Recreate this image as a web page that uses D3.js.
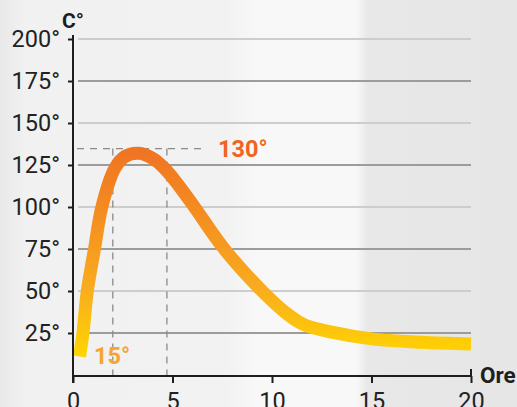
<!DOCTYPE html>
<html>
<head>
<meta charset="utf-8">
<script src="https://cdn.jsdelivr.net/npm/d3@7"></script>
<style>
  html, body { margin: 0; padding: 0; }
  body { width: 517px; height: 407px; overflow: hidden; }
  svg { display: block; font-family: Roboto, "Noto Sans", sans-serif; }
</style>
</head>
<body>
<div id="chart"></div>
<script>
// temperature curve (hours, °C)
const hours = [0.33, 0.5, 0.72, 1.08, 1.45, 2.1, 2.6, 3.3, 4.0, 4.6, 5.3, 6.1, 7.6, 9.5, 10.8, 11.6, 13, 15, 17.5, 20]
const temps = [11, 25, 50, 75, 100, 123, 130, 132, 129, 123, 113, 100, 75, 50, 36, 30, 25.5, 21.5, 19.5, 18.5]

const yTicks = [25, 50, 75, 100, 125, 150, 175, 200]
const xTicks = [0, 5, 10, 15, 20]
const peakValue = 130
const peakRange = [2.0, 4.72]
const startLabel = "15°"

const W = 517
const H = 407

const svg = d3.select("#chart").append("svg")
  .attr("width", W)
  .attr("height", H)

const defs = svg.append("defs")

// background: blurred room photo, approximated
const bg = defs.append("linearGradient")
  .attr("id", "bg")
  .attr("x1", 0).attr("x2", 1).attr("y1", 0).attr("y2", 0)
bg.append("stop").attr("offset", 0).attr("stop-color", "#e9e9e9")
bg.append("stop").attr("offset", 0.05).attr("stop-color", "#f1f1f1")
bg.append("stop").attr("offset", 0.44).attr("stop-color", "#f2f2f2")
bg.append("stop").attr("offset", 0.5).attr("stop-color", "#f8f8f8")
bg.append("stop").attr("offset", 0.69).attr("stop-color", "#f8f8f8")
bg.append("stop").attr("offset", 0.71).attr("stop-color", "#e8e8e8")
bg.append("stop").attr("offset", 1).attr("stop-color", "#e6e6e6")

svg.append("rect")
  .attr("width", W)
  .attr("height", H)
  .attr("fill", "url(#bg)")

const x = d3.scaleLinear().domain([0, 20]).range([73, 471])
const y = d3.scaleLinear().domain([0, 200]).range([375, 39])

// gridlines, alternating light / dark
svg.append("g")
  .selectAll("line")
  .data(yTicks)
  .join("line")
  .attr("x1", 78)
  .attr("x2", x(20))
  .attr("y1", d => y(d))
  .attr("y2", d => y(d))
  .attr("stroke", (d, i) => i % 2 === 0 ? "#9c9c9c" : "#cdcdcd")
  .attr("stroke-width", 2)

// dashed guides to the peak
const guideY = y(peakValue) - 8
const guides = svg.append("g")
  .attr("stroke", "#8a8a8a")
  .attr("stroke-width", 1.3)
  .attr("stroke-dasharray", "7 6")
  .attr("fill", "none")

guides.append("line")
  .attr("x1", x(0) + 4).attr("x2", 206)
  .attr("y1", guideY).attr("y2", guideY)

peakRange.forEach(h => {
  guides.append("line")
    .attr("x1", x(h)).attr("x2", x(h))
    .attr("y1", guideY)
    .attr("y2", y(0))
})

// curve gradient
const grad = defs.append("linearGradient")
  .attr("id", "curveGrad")
  .attr("gradientUnits", "userSpaceOnUse")
  .attr("x1", 0).attr("x2", 0)
  .attr("y1", y(10)).attr("y2", y(132))
grad.append("stop").attr("offset", 0).attr("stop-color", "#ffd600")
grad.append("stop").attr("offset", 0.35).attr("stop-color", "#f9ab1e")
grad.append("stop").attr("offset", 1).attr("stop-color", "#f07522")

const pts = hours.map((h, i) => [h, temps[i]])

const line = d3.line()
  .x(d => x(d[0]))
  .y(d => y(d[1]))
  .curve(d3.curveCatmullRom.alpha(0.5))

svg.append("path")
  .datum(pts)
  .attr("d", line)
  .attr("fill", "none")
  .attr("stroke", "url(#curveGrad)")
  .attr("stroke-width", 13)
  .attr("stroke-linecap", "butt")

// axes
const axisColor = "#1e1e1e"

const yAxis = svg.append("g")
  .attr("transform", `translate(${x(0)},0)`)
  .call(d3.axisLeft(y).tickValues(yTicks).tickSize(5).tickPadding(8).tickSizeOuter(0).tickFormat(d => d + "°"))
yAxis.select(".domain").remove()
yAxis.selectAll(".tick line").attr("stroke", axisColor).attr("stroke-width", 2)
yAxis.selectAll(".tick text")
  .attr("fill", "#222")
  .attr("font-size", 23.5)
  .attr("font-family", "Roboto, sans-serif")

svg.append("line")
  .attr("x1", x(0)).attr("x2", x(0))
  .attr("y1", 35).attr("y2", y(0) + 8)
  .attr("stroke", axisColor)
  .attr("stroke-width", 2)

const xAxis = svg.append("g")
  .attr("transform", `translate(0,${y(0) + 1})`)
  .call(d3.axisBottom(x).tickValues(xTicks).tickSize(7).tickPadding(9).tickSizeOuter(0))
xAxis.select(".domain").remove()
xAxis.selectAll(".tick line").attr("stroke", axisColor).attr("stroke-width", 2)
xAxis.selectAll(".tick text")
  .attr("fill", "#222")
  .attr("font-size", 23.5)
  .attr("font-family", "Roboto, sans-serif")

svg.append("line")
  .attr("x1", x(0)).attr("x2", x(20) + 1)
  .attr("y1", y(0) + 1).attr("y2", y(0) + 1)
  .attr("stroke", axisColor)
  .attr("stroke-width", 2)

svg.append("line")
  .attr("x1", x(20)).attr("x2", x(20))
  .attr("y1", y(0) - 6).attr("y2", y(0) + 1)
  .attr("stroke", axisColor)
  .attr("stroke-width", 2)

// axis titles
svg.append("text")
  .attr("x", 62).attr("y", 28)
  .attr("font-size", 21)
  .attr("font-weight", "bold")
  .attr("fill", "#1e1e1e")
  .text("C°")

svg.append("text")
  .attr("x", 480).attr("y", 383)
  .attr("font-size", 22.5)
  .attr("font-weight", "bold")
  .attr("fill", "#1e1e1e")
  .text("Ore")

// value labels
svg.append("text")
  .attr("x", 218).attr("y", y(peakValue))
  .attr("font-size", 23.5)
  .attr("font-weight", "bold")
  .attr("fill", "#f26322")
  .text(peakValue + "°")

svg.append("text")
  .attr("x", 94).attr("y", 364)
  .attr("font-size", 23.5)
  .attr("font-weight", "bold")
  .attr("fill", "#f6a531")
  .text(startLabel)
</script>
</body>
</html>
